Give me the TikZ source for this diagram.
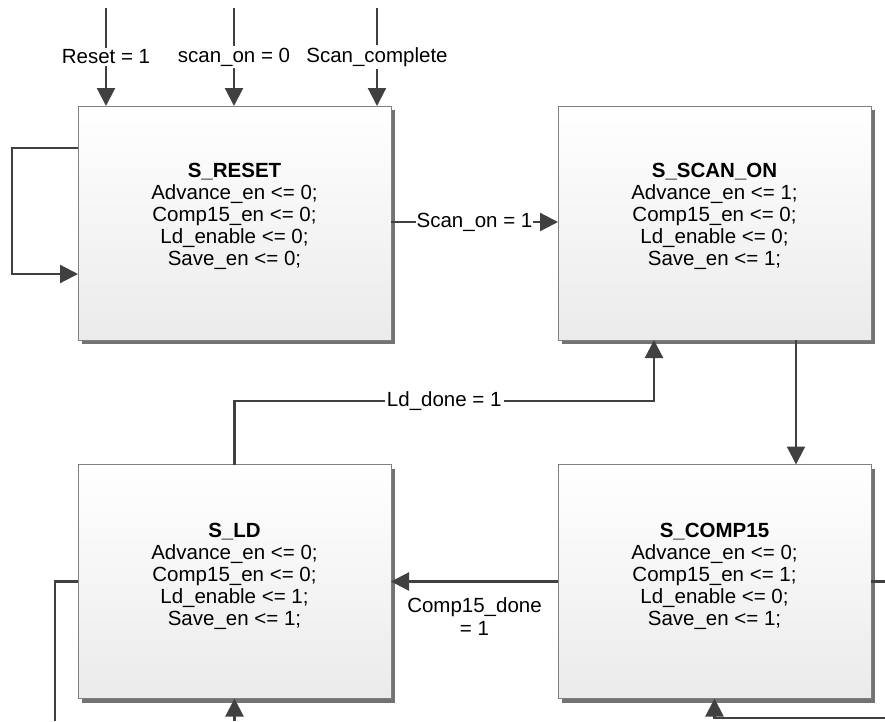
\documentclass[tikz,border=0pt]{standalone}
\usepackage{fontspec}
\setmainfont{Liberation Sans}
\usetikzlibrary{arrows.meta,shadows}
\definecolor{lineclr}{HTML}{404040}
\definecolor{boxborder}{HTML}{808080}
\begin{document}
\begin{tikzpicture}[x=1pt,y=-1pt,
  font=\fontsize{20.5}{22}\selectfont,
  statebox/.style={draw=boxborder, line width=1pt, top color=white, bottom color=black!8,
    minimum width=313pt, minimum height=234pt, inner sep=0pt, outer sep=0pt,
    drop shadow={shadow xshift=4pt, shadow yshift=-4pt, fill=black!55, opacity=1}},
  statetext/.style={align=center, inner sep=0pt},
  conn/.style={draw=lineclr, line width=2.2pt, -{Triangle[length=18pt,width=18pt]}},
  wire/.style={draw=lineclr, line width=2.2pt},
  lbl/.style={fill=white, inner sep=2pt}
]
\useasboundingbox (0,0) rectangle (885,721);

% states
\node[statebox] (reset) at (234.5,223) {};
\node[statebox] (scan)  at (714.5,223) {};
\node[statebox] (ld)    at (234.5,581.5) {};
\node[statebox] (comp)  at (714.5,581.5) {};

\node[statetext] (resettxt) at ([yshift=7pt]reset.center) {\textbf{S\_RESET}\\Advance\_en <= 0;\\Comp15\_en <= 0;\\Ld\_enable <= 0;\\Save\_en <= 0;};
\node[statetext] (scantxt) at ([yshift=7pt]scan.center) {\textbf{S\_SCAN\_ON}\\Advance\_en <= 1;\\Comp15\_en <= 0;\\Ld\_enable <= 0;\\Save\_en <= 1;};
\node[statetext] (ldtxt) at ([yshift=5pt]ld.center) {\textbf{S\_LD}\\Advance\_en <= 0;\\Comp15\_en <= 0;\\Ld\_enable <= 1;\\Save\_en <= 1;};
\node[statetext] (comptxt) at ([yshift=5pt]comp.center) {\textbf{S\_COMP15}\\Advance\_en <= 0;\\Comp15\_en <= 1;\\Ld\_enable <= 0;\\Save\_en <= 1;};

% free ends
\coordinate (in1) at (106,8);
\coordinate (in2) at (234,8);
\coordinate (in3) at (377,8);
\coordinate (loopx) at (12,148);
\coordinate (ldbend) at (654,401);
\coordinate (ldout) at (55,721);
\coordinate (ldin) at (234.5,721);
\coordinate (compout) at (885,581.5);
\coordinate (compin) at (885,718);

% incoming arrows to S_RESET
\draw[conn] (in1) -- node[lbl]{Reset = 1} (reset.north -| in1);
\draw[conn] (in2) -- node[lbl]{scan\_on = 0} (reset.north -| in2);
\draw[conn] (in3) -- node[lbl]{Scan\_complete} (reset.north -| in3);

% self loop
\draw[conn] (reset.west |- loopx) -- (loopx) |- (reset.west |- 0,274);

% S_RESET -> S_SCAN_ON
\draw[conn] (reset.east |- 0,222) -- node[lbl, inner sep=1pt]{Scan\_on = 1} (scan.west |- 0,222);

% S_SCAN_ON -> S_COMP15
\draw[conn] (scan.south -| 796,0) -- (comp.north -| 796,0);

% S_COMP15 -> S_LD
\draw[conn] (comp.west) -- node[below=15pt, align=center, inner sep=0pt, font=\fontsize{20.5}{23}\selectfont]{Comp15\_done\\= 1} (ld.east);

% S_LD -> S_SCAN_ON
\draw[conn] (ld.north) |- node[lbl, pos=0.75]{Ld\_done = 1} (ldbend) -- (scan.south -| ldbend);

% partial connectors at the bottom / sides
\draw[wire] (ld.west) -| (ldout);
\draw[conn] (ldin) -- (ld.south);
\draw[wire] (comp.east) -- (compout);
\draw[conn] (compin) -| (comp.south);
\end{tikzpicture}
\end{document}
